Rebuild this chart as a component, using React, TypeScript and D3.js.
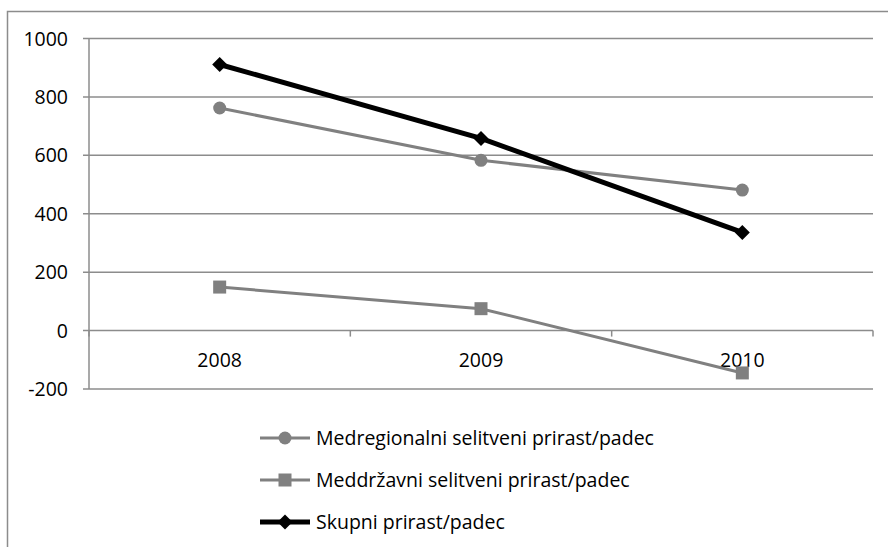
import React from "react";
import * as d3 from "d3";

const categories = ["2008", "2009", "2010"];
const medregionalni = [762, 583, 481];
const meddrzavni = [149, 75, -145];
const skupni = [911, 658, 336];
const yTicks = [-200, 0, 200, 400, 600, 800, 1000];
const seriesNames = [
  "Medregionalni selitveni prirast/padec",
  "Meddržavni selitveni prirast/padec",
  "Skupni prirast/padec",
];

const W = 888;
const H = 547;
const FONT = "'Open Sans', sans-serif";
const FS = 19.5;

export default function App() {
  const x = d3.scaleBand<string>().domain(categories).range([89, 873]).padding(0);
  const y = d3.scaleLinear().domain([-200, 1000]).range([389, 38.5]);
  const cx = (c: string) => (x(c) as number) + x.bandwidth() / 2;
  const line = d3
    .line<number>()
    .x((_, i) => cx(categories[i]))
    .y((v) => y(v));

  const series = [
    { name: seriesNames[0], values: medregionalni, color: "#808080", width: 3, marker: "circle" },
    { name: seriesNames[1], values: meddrzavni, color: "#808080", width: 3, marker: "square" },
    { name: seriesNames[2], values: skupni, color: "#000000", width: 5, marker: "diamond" },
  ];

  const marker = (type: string, px: number, py: number, color: string, key: any) => {
    if (type === "circle") return <circle key={key} cx={px} cy={py} r={6.5} fill={color} />;
    if (type === "square")
      return <rect key={key} x={px - 6.5} y={py - 6.5} width={13} height={13} fill={color} />;
    const s = 7.5;
    return (
      <path
        key={key}
        d={`M${px},${py - s}L${px + s},${py}L${px},${py + s}L${px - s},${py}Z`}
        fill={color}
      />
    );
  };

  const boundaries = [...categories.map((c) => x(c) as number), 873];

  return (
    <svg
      width={W}
      height={H}
      style={{ position: "absolute", left: 0, top: 0, background: "#fff" }}
      fontFamily={FONT}
    >
      <rect x={0} y={0} width={W} height={H} fill="#fff" />
      {/* outer border (left + top) */}
      <path d={`M7.5,${H}V11.5H${W}`} fill="none" stroke="#8c8c8c" strokeWidth={1.5} />

      {/* gridlines and y ticks */}
      {yTicks.map((t) => (
        <g key={t}>
          <line x1={83} x2={873} y1={y(t)} y2={y(t)} stroke="#8c8c8c" strokeWidth={1.5} />
          <text x={68} y={y(t)} dy="0.36em" textAnchor="end" fontSize={FS} fill="#000">
            {t}
          </text>
        </g>
      ))}
      {/* y axis */}
      <line x1={89} x2={89} y1={y(1000)} y2={y(-200)} stroke="#8c8c8c" strokeWidth={1.5} />
      {/* x axis ticks */}
      {boundaries.map((b, i) => (
        <line key={i} x1={b} x2={b} y1={y(0)} y2={y(0) + 6} stroke="#8c8c8c" strokeWidth={1.5} />
      ))}
      {categories.map((c) => (
        <text key={c} x={cx(c)} y={360} dy="0.36em" textAnchor="middle" fontSize={FS} fill="#000">
          {c}
        </text>
      ))}

      {/* series */}
      {series.map((s, si) => (
        <g key={si}>
          <path d={line(s.values) || ""} fill="none" stroke={s.color} strokeWidth={s.width} />
          {s.values.map((v, i) => marker(s.marker, cx(categories[i]), y(v), s.color, i))}
        </g>
      ))}

      {/* legend */}
      {series.map((s, si) => {
        const ly = 438 + si * 42;
        return (
          <g key={si}>
            <line x1={260} x2={310} y1={ly} y2={ly} stroke={s.color} strokeWidth={s.width} />
            {marker(s.marker, 285, ly, s.color, "m")}
            <text x={316} y={ly} dy="0.36em" fontSize={FS} fill="#000">
              {s.name}
            </text>
          </g>
        );
      })}
    </svg>
  );
}
